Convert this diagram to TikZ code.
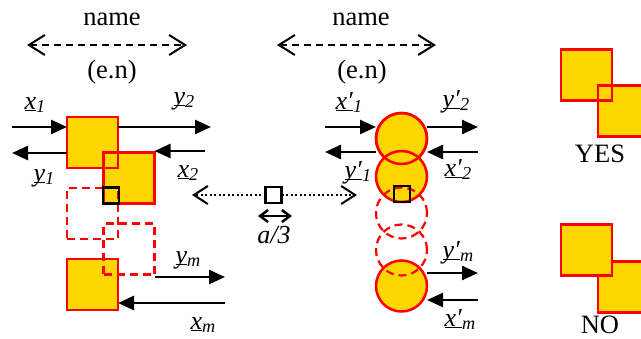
\documentclass[tikz,border=0pt]{standalone}
\usepackage{fontspec}
\setmainfont{Liberation Serif}[ItalicFont=Liberation Serif Italic]
\usetikzlibrary{arrows.meta}

\definecolor{tilefill}{RGB}{255,214,0}
\definecolor{tilerim}{RGB}{255,0,0}
\newcommand{\sig}[2]{\underline{\smash{\textit{#1}}}\textsubscript{\textit{#2}}}

\begin{document}
\begin{tikzpicture}[x=1pt, y=-1pt,
        tile/.style={draw=tilerim, fill=tilefill, line width=2.5pt, inner sep=0pt, outer sep=0pt, minimum size=51pt},
        disc/.style={tile, circle},
        ghost/.style={draw=tilerim, line width=2.2pt, dash pattern=on 8pt off 5pt, inner sep=0pt, outer sep=0pt, minimum size=51pt},
        ghostdisc/.style={ghost, circle},
        rim/.style={draw=tilerim, line width=2.5pt},
        probe/.style={draw, line width=2.5pt, inner sep=0pt, outer sep=0pt, minimum size=16pt},
        flow/.style={line width=2.5pt, -{Triangle[length=16pt,width=14pt]}},
        span/.style={line width=2pt, dash pattern=on 7pt off 5pt, {Straight Barb[length=16pt,width=20pt]}-{Straight Barb[length=16pt,width=20pt]}},
        reach/.style={line width=2pt, dash pattern=on 2pt off 2.5pt, -{Straight Barb[length=14pt,width=18pt]}},
        gap/.style={line width=2.5pt, {Straight Barb[length=8pt,width=12pt]}-{Straight Barb[length=8pt,width=12pt]}},
        lab/.style={anchor=base west, font=\fontsize{26}{26}\selectfont},
        txt/.style={anchor=base, font=\fontsize{26.5}{26.5}\selectfont}]

    \useasboundingbox (0,0) rectangle (641,338);
    \clip (0,0) rectangle (641,338);

    \node[txt] (nmL) at (112,25) {name};
    \node[txt] (enL) at (112,78) {(e.n)};
    \coordinate (spL1) at (27,45);
    \coordinate (spL2) at (187,45);
    \draw[span] (spL1) -- (spL2);

    \node[txt] (nmR) at (361,25) {name};
    \node[txt] (enR) at (362,78) {(e.n)};
    \coordinate (spR1) at (277,45);
    \coordinate (spR2) at (436,45);
    \draw[span] (spR1) -- (spR2);

    \node[tile] (sq1) at (92.5,142.5) {};
    \node[tile] (sq2) at (129,178) {};
    \draw[rim] (sq1.south west) rectangle (sq1.north east);
    \node[tile] (sqm) at (92.5,284.5) {};
    \node[ghost] (gh1) at (92.5,213.5) {};
    \node[ghost] (gh2) at (129,249) {};
    \node[probe] (pb1) at (111,195.5) {};

    \coordinate (x1s) at (12,127);
    \coordinate (y2e) at (211,127);
    \coordinate (y1e) at (12,153);
    \coordinate (x2s) at (205,151);
    \coordinate (yme) at (225,277);
    \coordinate (xms) at (225,303);
    \draw[flow] (x1s) -- (x1s -| sq1.west);
    \draw[flow] (y2e -| sq1.east) -- (y2e);
    \draw[flow] (y1e -| sq1.west) -- (y1e);
    \draw[flow] (x2s) -- (x2s -| sq2.east);
    \draw[flow] (yme -| gh2.east) -- (yme);
    \draw[flow] (xms) -- (xms -| sqm.east);

    \node[lab] (lx1) at (21,109) {\sig{x}{1}};
    \node[lab] (ly2) at (170,104) {\sig{y}{2}};
    \node[lab] (ly1) at (30,181) {\sig{y}{1}};
    \node[lab] (lx2) at (174,177) {\sig{x}{2}};
    \node[lab] (lym) at (172,263) {\sig{y}{m}};
    \node[lab] (lxm) at (187,329) {\sig{x}{m}};

    \node[probe] (pbm) at (273.5,195) {};
    \coordinate (rcL) at (192,195);
    \coordinate (rcR) at (357,195);
    \draw[reach] (pbm) -- (rcL);
    \draw[reach] (pbm) -- (rcR);
    \coordinate (wL) at (258,216);
    \coordinate (wR) at (292,216);
    \draw[gap] (wL) -- (wR);
    \node[lab, anchor=base] (la3) at (274,243) {\textit{a/3}};

    \node[disc] (c1) at (401.5,138.5) {};
    \node[disc] (c2) at (401.5,176.5) {};
    \draw[rim] (c1.center) circle[radius=25.5pt];
    \node[disc] (cm) at (401.5,286) {};
    \node[ghostdisc] (gc3) at (401.5,213) {};
    \node[ghostdisc] (gc4) at (401.5,250) {};
    \node[probe] (pb2) at (402,194) {};

    \coordinate (xp1s) at (325,127);
    \coordinate (yp2e) at (478,127);
    \coordinate (yp1e) at (325,152);
    \coordinate (xp2s) at (478,152);
    \coordinate (ypme) at (478,273);
    \coordinate (xpms) at (478,300);
    \draw[flow] (xp1s) -- (xp1s -| c1.west);
    \draw[flow] (yp2e -| c1.east) -- (yp2e);
    \draw[flow] (yp1e -| c1.west) -- (yp1e);
    \draw[flow] (xp2s) -- (xp2s -| c1.east);
    \draw[flow] (ypme -| cm.east) -- (ypme);
    \draw[flow] (xpms) -- (xpms -| cm.east);

    \node[lab] (lxp1) at (332,109) {\sig{x′}{1}};
    \node[lab] (lyp2) at (439,107) {\sig{y′}{2}};
    \node[lab] (lyp1) at (341,178) {\sig{y′}{1}};
    \node[lab] (lxp2) at (441,176) {\sig{x′}{2}};
    \node[lab] (lypm) at (439,258) {\sig{y′}{m}};
    \node[lab] (lxpm) at (441,326) {\sig{x′}{m}};

    \node[tile] (yA) at (586.5,75) {};
    \node[tile] (yB) at (623.5,111) {};
    \draw[rim] (yA.south west) rectangle (yA.north east);
    \node[txt] (yes) at (600,162) {YES};

    \node[tile] (nB) at (623.5,287) {};
    \node[tile] (nA) at (586.5,250) {};
    \node[txt] (no) at (600,333) {NO};
\end{tikzpicture}
\end{document}
